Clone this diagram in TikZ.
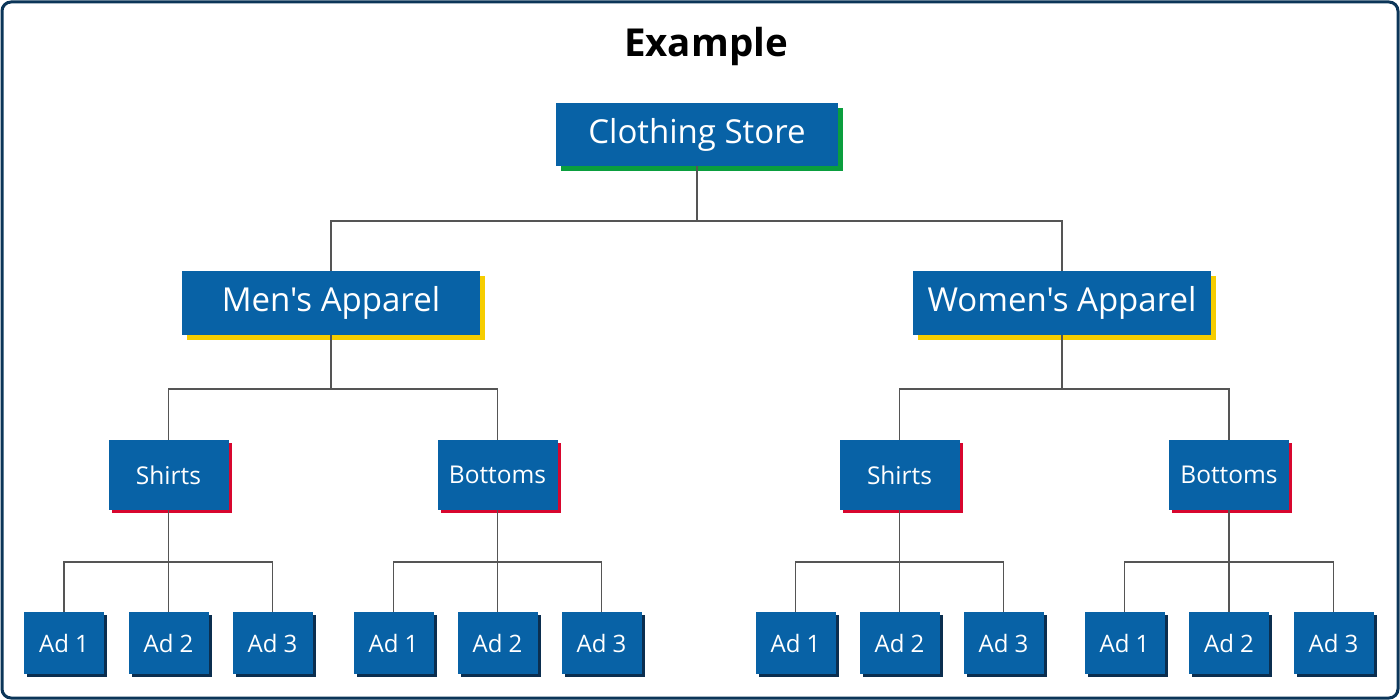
\documentclass[tikz,border=0pt]{standalone}
\usepackage{fontspec}
\newfontfamily\bodyfont{Open Sans}
\usetikzlibrary{shadows}
\definecolor{boxblue}{HTML}{0862A6}
\definecolor{frame}{HTML}{0B3558}
\definecolor{shgreen}{HTML}{0A9E3E}
\definecolor{shyellow}{HTML}{F6CD00}
\definecolor{shred}{HTML}{D8062E}
\definecolor{shnavy}{HTML}{0B2E4F}
\definecolor{conn}{HTML}{555555}
\tikzset{
  every node/.style={font=\bodyfont},
  box/.style={fill=boxblue, text=white, inner sep=0pt, align=center},
  topbox/.style={box, minimum width=282pt, minimum height=63pt, font=\bodyfont\fontsize{33}{37}\selectfont,
    drop shadow={shadow xshift=5pt, shadow yshift=-5pt, fill=shgreen, opacity=1}},
  catbox/.style={box, minimum width=298pt, minimum height=64pt, font=\bodyfont\fontsize{33}{37}\selectfont,
    drop shadow={shadow xshift=5pt, shadow yshift=-5pt, fill=shyellow, opacity=1}},
  subbox/.style={box, minimum width=120pt, minimum height=70pt, font=\bodyfont\fontsize{24.5}{28}\selectfont,
    drop shadow={shadow xshift=3pt, shadow yshift=-3pt, fill=shred, opacity=1}},
  adbox/.style={box, minimum width=80pt, minimum height=62pt, font=\bodyfont\fontsize{24}{28}\selectfont,
    drop shadow={shadow xshift=3pt, shadow yshift=-3pt, fill=shnavy, opacity=1}},
  link/.style={draw=conn, line width=1.4pt},
  frameline/.style={draw=frame, line width=3pt, rounded corners=9pt}
}
\begin{document}
\begin{tikzpicture}[x=1pt,y=-1pt]
\useasboundingbox (0,0) rectangle (1400,700);
\draw[frameline] (2,2) rectangle (1398,698);
\node[font=\bodyfont\fontsize{38.5}{44}\selectfont\bfseries] (title) at (706,47) {Example};

\node[topbox] (top) at (697,134.5) {Clothing Store};
\node[catbox] (men) at (331,303) {Men's Apparel};
\node[catbox] (women) at (1062,303) {Women's Apparel};

\node[subbox] (ms) at (168.5,475) {Shirts};
\node[subbox] (mb) at (497.5,475) {Bottoms};
\node[subbox] (ws) at (899.5,475) {Shirts};
\node[subbox] (wb) at (1229,475) {Bottoms};

\node[adbox] (ms1) at (64,643) {Ad 1};
\node[adbox] (ms2) at (168.5,643) {Ad 2};
\node[adbox] (ms3) at (272.5,643) {Ad 3};
\node[adbox] (mb1) at (393.5,643) {Ad 1};
\node[adbox] (mb2) at (497.5,643) {Ad 2};
\node[adbox] (mb3) at (601.5,643) {Ad 3};
\node[adbox] (ws1) at (795.5,643) {Ad 1};
\node[adbox] (ws2) at (899.5,643) {Ad 2};
\node[adbox] (ws3) at (1003.5,643) {Ad 3};
\node[adbox] (wb1) at (1124.5,643) {Ad 1};
\node[adbox] (wb2) at (1229,643) {Ad 2};
\node[adbox] (wb3) at (1333.5,643) {Ad 3};

% junctions
\coordinate (j0) at (top.south |- 0,221);
\coordinate (j1) at (men.south |- 0,389);
\coordinate (j2) at (women.south |- 0,389);
\coordinate (j3) at (ms.south |- 0,562);
\coordinate (j4) at (mb.south |- 0,562);
\coordinate (j5) at (ws.south |- 0,562);
\coordinate (j6) at (wb.south |- 0,562);

\draw[link] (top.south) -- (j0);
\draw[link] (men.north) |- (j0) -| (women.north);

\draw[link] (men.south) -- (j1);
\draw[link] (ms.north) |- (j1) -| (mb.north);
\draw[link] (women.south) -- (j2);
\draw[link] (ws.north) |- (j2) -| (wb.north);

\draw[link] (ms.south) -- (ms2.north);
\draw[link] (ms1.north) |- (j3) -| (ms3.north);
\draw[link] (mb.south) -- (mb2.north);
\draw[link] (mb1.north) |- (j4) -| (mb3.north);
\draw[link] (ws.south) -- (ws2.north);
\draw[link] (ws1.north) |- (j5) -| (ws3.north);
\draw[link] (wb.south) -- (wb2.north);
\draw[link] (wb1.north) |- (j6) -| (wb3.north);
\end{tikzpicture}
\end{document}
